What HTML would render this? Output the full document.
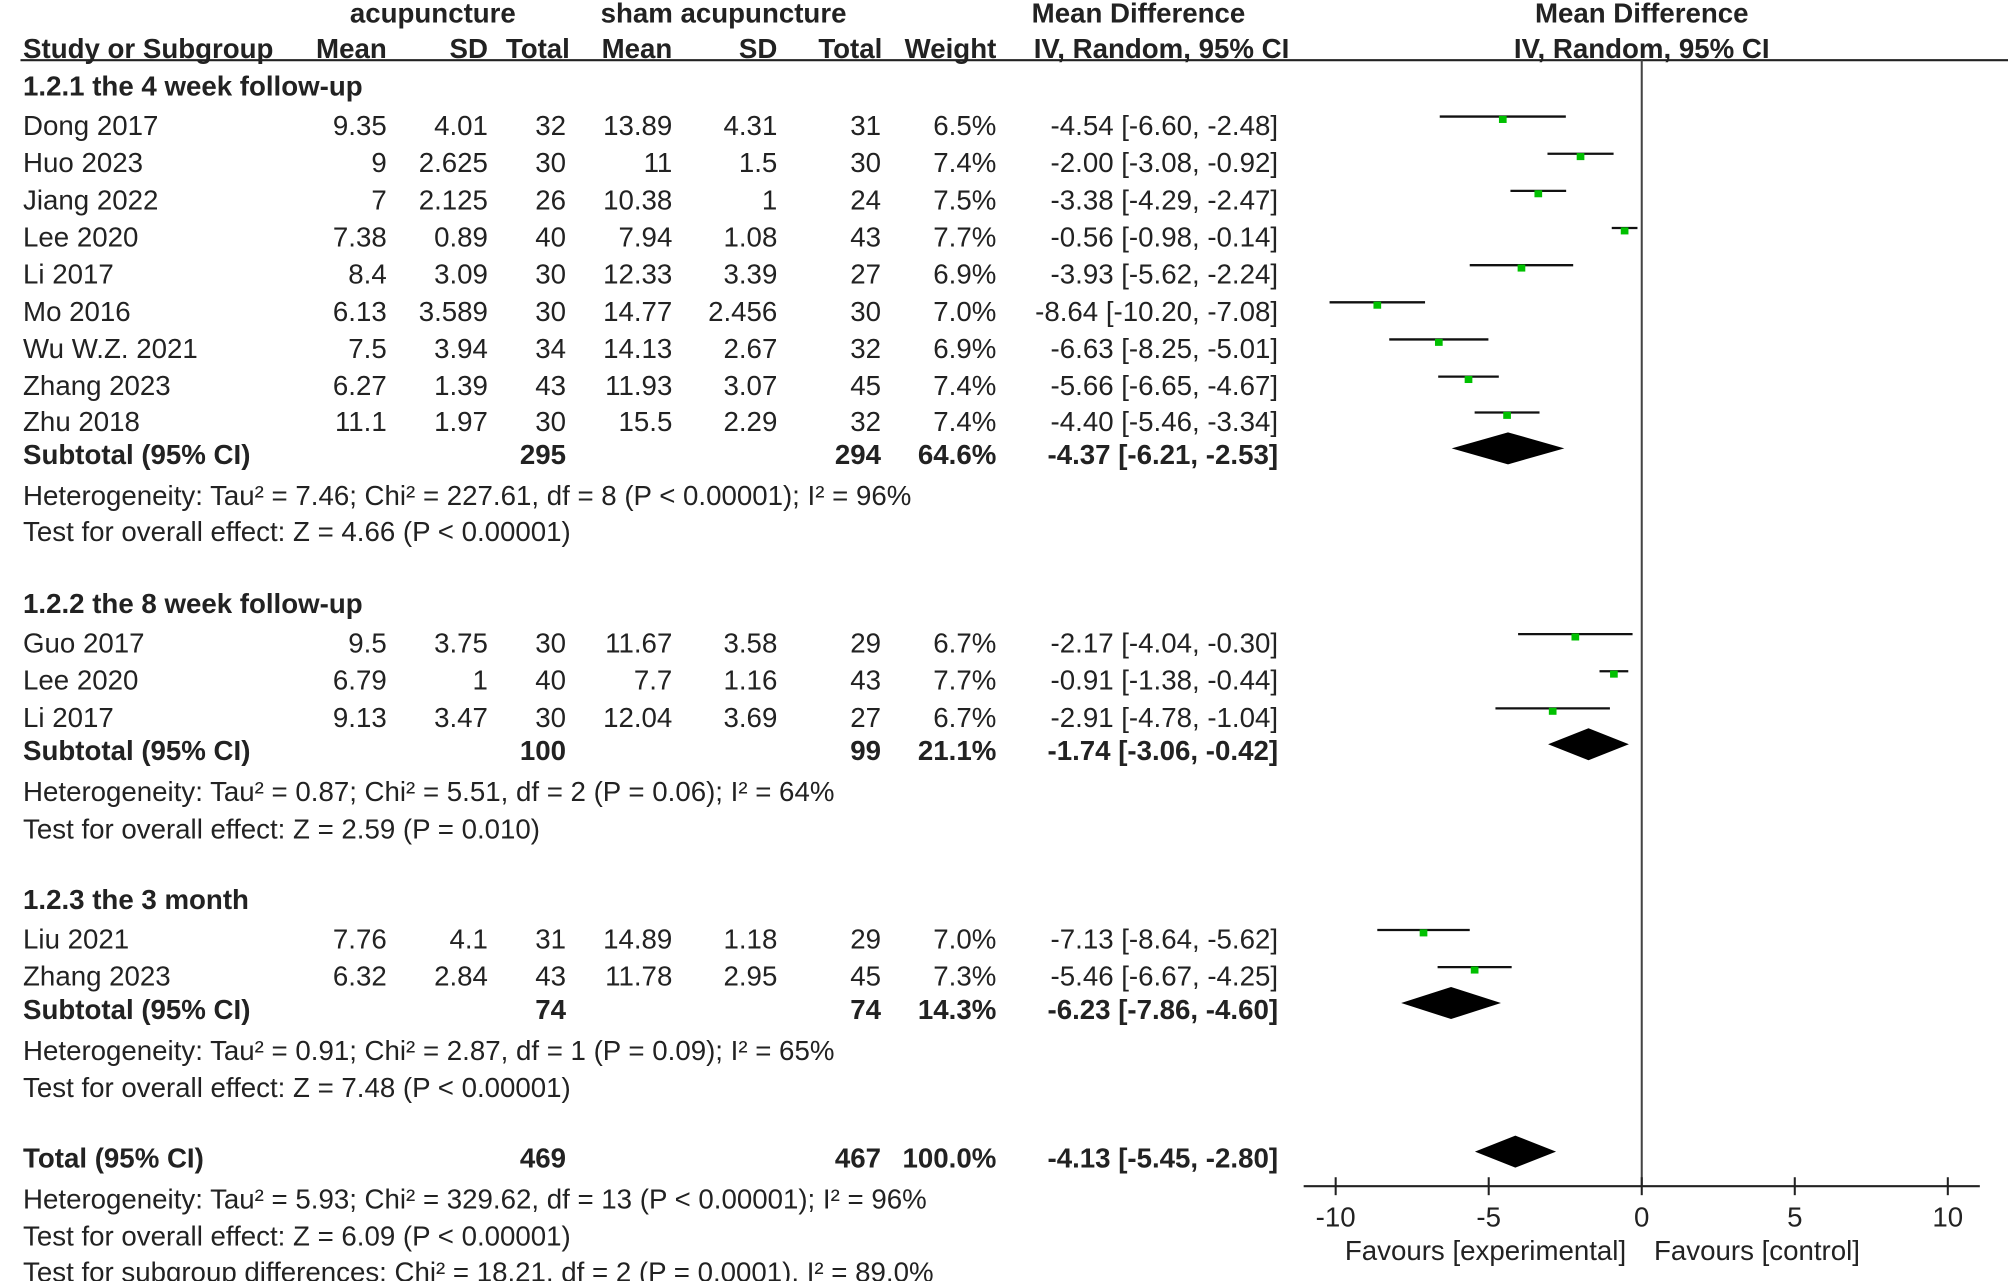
<!DOCTYPE html>
<html><head><meta charset="utf-8"><style>
html,body{margin:0;padding:0;background:#fff}
svg{display:block}
text{font-family:"Liberation Sans",Arial,sans-serif;font-size:21.6px;fill:#222}
.b{font-weight:bold}
</style></head><body>
<svg id="c" width="2008" height="1281" viewBox="0 0 1568 1000" preserveAspectRatio="none" xmlns="http://www.w3.org/2000/svg">
<g id="hdr">
<text x="338" y="10" text-anchor="middle" class="b" dominant-baseline="central">acupuncture</text>
<text x="565" y="10" text-anchor="middle" class="b" dominant-baseline="central">sham acupuncture</text>
<text x="889" y="10" text-anchor="middle" class="b" dominant-baseline="central">Mean Difference</text>
<text x="1282" y="10" text-anchor="middle" class="b" dominant-baseline="central">Mean Difference</text>
<text x="18" y="38" class="b" dominant-baseline="central">Study or Subgroup</text>
<text x="302" y="38" text-anchor="end" class="b" dominant-baseline="central">Mean</text>
<text x="381" y="38" text-anchor="end" class="b" dominant-baseline="central">SD</text>
<text x="445" y="38" text-anchor="end" class="b" dominant-baseline="central">Total</text>
<text x="525" y="38" text-anchor="end" class="b" dominant-baseline="central">Mean</text>
<text x="607" y="38" text-anchor="end" class="b" dominant-baseline="central">SD</text>
<text x="689" y="38" text-anchor="end" class="b" dominant-baseline="central">Total</text>
<text x="778" y="38" text-anchor="end" class="b" dominant-baseline="central">Weight</text>
<text x="907" y="38" text-anchor="middle" class="b" dominant-baseline="central">IV, Random, 95% CI</text>
<text x="1282" y="38" text-anchor="middle" class="b" dominant-baseline="central">IV, Random, 95% CI</text>
<line x1="16" y1="47" x2="1568" y2="47" stroke="#222" stroke-width="1.6"/>
</g>
<g id="rows"></g>
<g id="plot"></g>
</svg>
<script>
const studyNames=["Dong 2017","Huo 2023","Jiang 2022","Lee 2020","Li 2017","Mo 2016","Wu W.Z. 2021","Zhang 2023","Zhu 2018","Guo 2017","Lee 2020","Li 2017","Liu 2021","Zhang 2023"];
const studyY=[98,127,156,185,214,243,272,301,329,502,531,560,733,762];
const acuMean=["9.35","9","7","7.38","8.4","6.13","7.5","6.27","11.1","9.5","6.79","9.13","7.76","6.32"];
const acuSD=["4.01","2.625","2.125","0.89","3.09","3.589","3.94","1.39","1.97","3.75","1","3.47","4.1","2.84"];
const acuN=[32,30,26,40,30,30,34,43,30,30,40,30,31,43];
const shamMean=["13.89","11","10.38","7.94","12.33","14.77","14.13","11.93","15.5","11.67","7.7","12.04","14.89","11.78"];
const shamSD=["4.31","1.5","1","1.08","3.39","2.456","2.67","3.07","2.29","3.58","1.16","3.69","1.18","2.95"];
const shamN=[31,30,24,43,27,30,32,45,32,29,43,27,29,45];
const weights=["6.5%","7.4%","7.5%","7.7%","6.9%","7.0%","6.9%","7.4%","7.4%","6.7%","7.7%","6.7%","7.0%","7.3%"];
const md=[-4.54,-2.00,-3.38,-0.56,-3.93,-8.64,-6.63,-5.66,-4.40,-2.17,-0.91,-2.91,-7.13,-5.46];
const lo=[-6.60,-3.08,-4.29,-0.98,-5.62,-10.20,-8.25,-6.65,-5.46,-4.04,-1.38,-4.78,-8.64,-6.67];
const hi=[-2.48,-0.92,-2.47,-0.14,-2.24,-7.08,-5.01,-4.67,-3.34,-0.30,-0.44,-1.04,-5.62,-4.25];
const sumLabels=["Subtotal (95% CI)","Subtotal (95% CI)","Subtotal (95% CI)","Total (95% CI)"];
const sumY=[355,586,788,904];
const sumAcuN=[295,100,74,469];
const sumShamN=[294,99,74,467];
const sumW=["64.6%","21.1%","14.3%","100.0%"];
const sumMd=[-4.37,-1.74,-6.23,-4.13];
const sumLo=[-6.21,-3.06,-7.86,-5.45];
const sumHi=[-2.53,-0.42,-4.60,-2.80];
const groupTitles=["1.2.1 the 4 week follow-up","1.2.2 the 8 week follow-up","1.2.3 the 3 month"];
const groupY=[67,471,702];
const notes=["Heterogeneity: Tau² = 7.46; Chi² = 227.61, df = 8 (P < 0.00001); I² = 96%","Test for overall effect: Z = 4.66 (P < 0.00001)","Heterogeneity: Tau² = 0.87; Chi² = 5.51, df = 2 (P = 0.06); I² = 64%","Test for overall effect: Z = 2.59 (P = 0.010)","Heterogeneity: Tau² = 0.91; Chi² = 2.87, df = 1 (P = 0.09); I² = 65%","Test for overall effect: Z = 7.48 (P < 0.00001)","Heterogeneity: Tau² = 5.93; Chi² = 329.62, df = 13 (P < 0.00001); I² = 96%","Test for overall effect: Z = 6.09 (P < 0.00001)","Test for subgroup differences: Chi² = 18.21, df = 2 (P = 0.0001), I² = 89.0%"];
const noteY=[387,415,618,647,820,849,936,965,993];
const xTicks=[-10,-5,0,5,10];

const NS="http://www.w3.org/2000/svg";
const X0=1282,XS=23.9;
function xs(v){return X0+v*XS;}
function mk(parent,tag,attrs){const e=document.createElementNS(NS,tag);for(const k in attrs)e.setAttribute(k,attrs[k]);parent.appendChild(e);return e;}
const rows=document.getElementById('rows'),plot=document.getElementById('plot');
function txt(x,y,s,anchor,bold,name){const t=mk(rows,'text',{x:x,y:y,'text-anchor':anchor||'start','dominant-baseline':'central'});if(bold)t.setAttribute('class','b');t.textContent=s;


return t;}
const f2=v=>v.toFixed(2);
groupTitles.forEach((g,i)=>txt(18,groupY[i],g,'start',true,'subgroup-title'));
notes.forEach((n,i)=>txt(18,noteY[i],n,'start',false,'stat-note'));
studyNames.forEach((n,i)=>{const y=studyY[i];
txt(18,y,n,'start',false,'study-name');
txt(302,y,acuMean[i],'end',false,'acu-mean');
txt(381,y,acuSD[i],'end',false,'acu-sd');
txt(442,y,String(acuN[i]),'end',false,'acu-total');
txt(525,y,shamMean[i],'end',false,'sham-mean');
txt(607,y,shamSD[i],'end',false,'sham-sd');
txt(688,y,String(shamN[i]),'end',false,'sham-total');
txt(778,y,weights[i],'end',false,'weight');
txt(998,y,f2(md[i])+" ["+f2(lo[i])+", "+f2(hi[i])+"]",'end',false,'mean-diff-ci');
const ly=y-7;
const l=mk(plot,'line',{x1:xs(lo[i]),x2:xs(hi[i]),y1:ly,y2:ly,stroke:'#111','stroke-width':1.8});


const r=mk(plot,'rect',{x:xs(md[i])-3,y:ly-0.5,width:6,height:5.5,fill:'#00c000'});


});
sumLabels.forEach((s,i)=>{const y=sumY[i];
txt(18,y,s,'start',true,'summary-label');
txt(442,y,String(sumAcuN[i]),'end',true,'summary-acu-total');
txt(688,y,String(sumShamN[i]),'end',true,'summary-sham-total');
txt(778,y,sumW[i],'end',true,'summary-weight');
txt(998,y,f2(sumMd[i])+" ["+f2(sumLo[i])+", "+f2(sumHi[i])+"]",'end',true,'summary-ci');
const dy=y-5;
const d=mk(plot,'polygon',{points:`${xs(sumLo[i])},${dy} ${xs(sumMd[i])},${dy-12.5} ${xs(sumHi[i])},${dy} ${xs(sumMd[i])},${dy+12.5}`,fill:'#000'});


});
const z=mk(plot,'line',{x1:X0,x2:X0,y1:47,y2:926,stroke:'#444','stroke-width':1.6});


const ax=mk(plot,'line',{x1:1018,x2:1546,y1:926,y2:926,stroke:'#222','stroke-width':1.6});


xTicks.forEach(v=>{
const t=mk(plot,'line',{x1:xs(v),x2:xs(v),y1:919,y2:933,stroke:'#222','stroke-width':1.6});


const l=mk(plot,'text',{x:xs(v),y:950,'text-anchor':'middle','dominant-baseline':'central'});l.textContent=String(v);


});
[["Favours [experimental]",1160],["Favours [control]",1372]].forEach(a=>{
const t=mk(plot,'text',{x:a[1],y:976,'text-anchor':'middle','dominant-baseline':'central'});t.textContent=a[0];


});
</script>
</body></html>
